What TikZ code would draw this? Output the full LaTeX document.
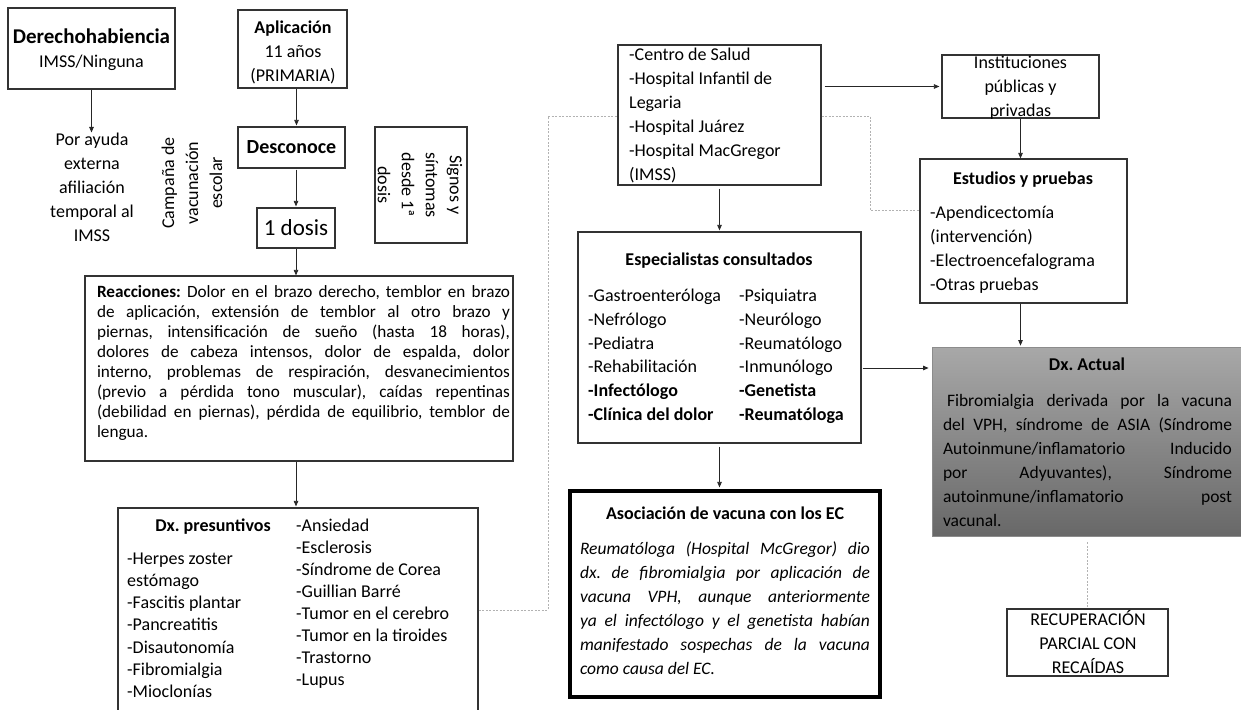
\documentclass[tikz,border=0pt]{standalone}
\usepackage{fontspec}
\setmainfont{Carlito}
\usetikzlibrary{arrows.meta,fit}

\begin{document}
\frenchspacing
\begin{tikzpicture}[x=1pt,y=-1pt,
  box/.style={draw=black!80, line width=1.2pt, inner sep=0pt},
  arr/.style={-{Triangle[length=5.5pt,width=4.5pt]}, line width=0.8pt, draw=black!85},
  dots/.style={draw=black!30, line width=0.8pt, dash pattern=on 2pt off 1.5pt},
  txt/.style={inner sep=0pt, font=\fontsize{18}{24}\selectfont},
  % list blocks are placed by the baseline of their last line
  lst/.style={txt, align=left, anchor=base west},
  just/.style={inner sep=0pt, align=justify},
]
\useasboundingbox (0,0) rectangle (1241,709);
\clip (0,0) rectangle (1241,709);

% ---------- boxes ----------
\node[box, fit={(8,8) (175,89)}] (der) {};
\node[box, fit={(238,10) (347,88)}] (apl) {};
\node[box, fit={(238,127) (345,168)}] (desc) {};
\node[box, fit={(257,208) (335,248)}] (dos) {};
\node[box, fit={(375,127) (467,243)}] (sig) {};
\node[box, fit={(85,276) (513,461)}] (reac) {};
\node[box, fit={(118,508) (478,730)}] (pres) {};
\node[box, fit={(618,45) (821,185)}] (centro) {};
\node[box, fit={(578,232) (861,443)}] (esp) {};
\node[draw=black, line width=3.2pt, inner sep=0pt, fit={(570,491) (880,697)}] (asoc) {};
\node[box, fit={(942,55) (1099,118)}] (inst) {};
\node[box, fit={(920,159) (1127,303)}] (est) {};
\node[draw=black!45, line width=0.8pt, inner sep=0pt,
      top color={rgb,255:red,168;green,168;blue,168},
      bottom color={rgb,255:red,104;green,104;blue,104},
      fit={(932,347) (1241.5,536)}] (act) {};
\node[box, fit={(1007,609) (1168,676)}] (rec) {};

% ---------- texts ----------
\node[txt, align=center] (dertxt) at (91.5,50)
  {{\fontsize{21}{24}\selectfont\bfseries Derechohabiencia}\\IMSS/Ninguna};
\node[txt, align=center] (portxt) at (92,187) {Por ayuda\\externa\\afiliación\\temporal al\\IMSS};
\node[txt, align=center, rotate=90] (camp) at (192,183) {Campaña de\\vacunación\\escolar};
\node[txt, align=center] (apltxt) at (293,52) {\textbf{Aplicación}\\11 años\\(PRIMARIA)};
\node[inner sep=0pt, font=\fontsize{20}{24}\selectfont\bfseries] (desctxt) at (desc.center) {Desconoce};
\node[inner sep=0pt, font=\fontsize{23}{26}\selectfont] (dostxt) at (dos.center) {1 dosis};
\node[txt, align=center, rotate=-90] (sigtxt) at (420,185) {Signos y\\síntomas\\desde 1ª\\dosis};

\node[just, text width=413pt, font=\fontsize{17.2}{20}\selectfont] (reactxt) at (303.5,363)
{\textbf{Reacciones:} Dolor en el brazo derecho, temblor en brazo\linebreak
de aplicación, extensión de temblor al otro brazo y\linebreak
piernas, intensificación de sueño (hasta 18 horas),\linebreak
dolores de cabeza intensos, dolor de espalda, dolor\linebreak
interno, problemas de respiración, desvanecimientos\linebreak
(previo a pérdida tono muscular), caídas repentinas\linebreak
(debilidad en piernas), pérdida de equilibrio, temblor de\linebreak
lengua.};

\node[txt, font=\fontsize{18}{22}\selectfont\bfseries] (prestit) at (213,527) {Dx. presuntivos};
\node[lst, font=\fontsize{18}{22.2}\selectfont] (presl) at (127,697.5)
{-Herpes zoster\\estómago\\-Fascitis plantar\\-Pancreatitis\\-Disautonomía\\-Fibromialgia\\-Mioclonías};
\node[lst, font=\fontsize{18}{22}\selectfont] (presr) at (296,685.5)
{-Ansiedad\\-Esclerosis\\-Síndrome de Corea\\-Guillian Barré\\-Tumor en el cerebro\\-Tumor en la tiroides\\-Trastorno\\-Lupus};

\node[lst] (centrotxt) at (629,180.5)
{-Centro de Salud\\-Hospital Infantil de\\Legaria\\-Hospital Juárez\\-Hospital MacGregor\\(IMSS)};

\node[txt, font=\fontsize{18}{24}\selectfont\bfseries] (esptit) at (719,261) {Especialistas consultados};
\node[lst, font=\fontsize{18}{23.8}\selectfont] (espl) at (588,420.5)
{-Gastroenteróloga\\-Nefrólogo\\-Pediatra\\-Rehabilitación\\\textbf{-Infectólogo}\\\textbf{-Clínica del dolor}};
\node[lst, font=\fontsize{18}{23.8}\selectfont] (espr) at (739,420.5)
{-Psiquiatra\\-Neurólogo\\-Reumatólogo\\-Inmunólogo\\\textbf{-Genetista}\\\textbf{-Reumatóloga}};

\node[txt, font=\fontsize{18}{24}\selectfont\bfseries] (asoctit) at (725,513) {Asociación de vacuna con los EC};
\node[just, text width=290pt, font=\fontsize{17.5}{24}\selectfont\itshape] (asoctxt) at (725,608)
{Reumatóloga (Hospital McGregor) dio\linebreak
dx. de fibromialgia por aplicación de\linebreak
vacuna VPH, aunque anteriormente\linebreak
ya el infectólogo y el genetista habían\linebreak
manifestado sospechas de la vacuna\linebreak
como causa del EC.};

\node[txt, align=center] (insttxt) at (1020.5,87.5) {Instituciones\\públicas y\\privadas};

\node[txt, font=\fontsize{18}{24}\selectfont\bfseries] (esttit) at (1023,180) {Estudios y pruebas};
\node[lst] (esttxt) at (930,290.5) {-Apendicectomía\\(intervención)\\-Electroencefalograma\\-Otras pruebas};

\node[txt, font=\fontsize{18}{24}\selectfont\bfseries] (acttit) at (1087,364) {Dx. Actual};
\node[just, text width=289pt, font=\fontsize{17.5}{24}\selectfont] (acttxt) at (1087.5,460)
{\hspace{4pt}Fibromialgia derivada por la vacuna\linebreak
del VPH, síndrome de ASIA (Síndrome\linebreak
Autoinmune/inflamatorio Inducido\linebreak
por Adyuvantes), Síndrome\linebreak
autoinmune/inflamatorio post\linebreak
vacunal.};

\node[txt, align=center] (rectxt) at (1088,642) {RECUPERACIÓN\\PARCIAL CON\\RECAÍDAS};

% ---------- connectors ----------
\draw[arr] (der.south) -- (der.south |- portxt.north);
\draw[arr, shorten >=1pt] ([xshift=4pt]apl.south) -- ([xshift=4pt]apl.south |- desc.north);
\draw[arr, shorten <=1pt, shorten >=1pt] (desc.south -| dos.north) -- (dos.north);
\draw[arr] (dos.south) -- (dos.south |- reac.north);
\draw[arr, shorten >=1pt] (reac.south -| dos.south) -- (dos.south |- pres.north);

\draw[arr, shorten <=3pt, shorten >=2pt] (centro.east |- inst.west) -- (inst.west);
\draw[arr, shorten <=3pt, shorten >=1pt] (centro.south) -- (centro.south |- esp.north);
\draw[arr] (inst.south) -- (inst.south |- est.north);
\draw[arr, shorten >=1pt] (est.south -| inst.south) -- (inst.south |- act.north);
\draw[arr, shorten <=1pt, shorten >=3pt] ([yshift=-30.5pt]esp.east) -- ([yshift=-30.5pt]esp.east -| act.west);
\draw[arr, shorten <=3pt, shorten >=2pt] (esp.south) -- (esp.south |- asoc.north);

% dotted links
\coordinate (pyl) at (0,610);
\coordinate (dA) at (548,116);
\coordinate (dB) at (870,210);
\draw[dots] (pres.east |- pyl) -| (dA) -- (dA -| centro.west);
\draw[dots] (centro.east |- dA) -| (dB) -- (dB -| est.west);
\draw[dots, shorten <=6pt] (act.south -| rec.north) -- (rec.north);
\end{tikzpicture}
\end{document}
